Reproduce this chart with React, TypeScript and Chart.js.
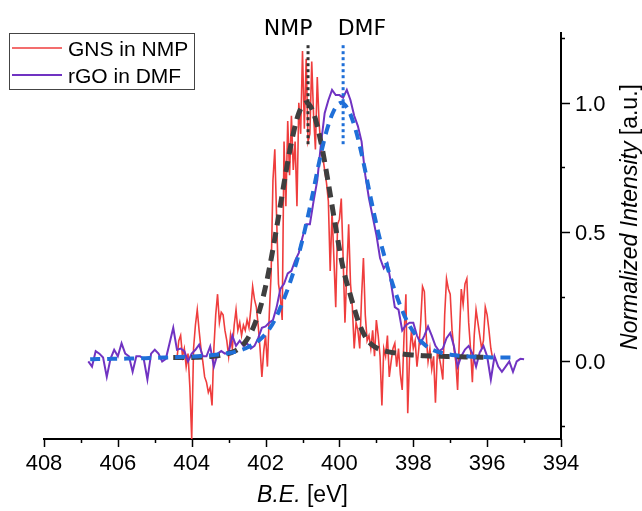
import React, { useEffect, useRef } from "react";
import { Chart, registerables } from "chart.js";
Chart.register(...registerables);

// ---- axes ----
const X_MIN = 394;
const X_MAX = 408;
const Y_MIN = -0.3;
const Y_MAX = 1.27;
const X_TICKS = [408, 406, 404, 402, 400, 398, 396, 394];
const X_TICK_LABELS = ["408", "406", "404", "402", "400", "398", "396", "394"];
const X_MINOR = [407, 405, 403, 401, 399, 397, 395];
const Y_TICKS = [0, 0.5, 1.0];
const Y_TICK_LABELS = ["0.0", "0.5", "1.0"];
const Y_MINOR = [-0.25, 0.25, 0.75, 1.25];

// ---- GNS in NMP (raw), B.E. grid from 404.40 eV downward, 0.05 eV step ----
const GNS_START = 404.4;
const GNS_STEP = 0.05;
const GNS_VALUES = [
  0.01, 0.08, 0.10, 0.02, 0.05, -0.02, 0.03, -0.10, -0.30, 0.05, 0.14, 0.20, 0.12, 0.05, 0.00, -0.06, -0.08, -0.12, -0.10, -0.17,
  0.05, 0.18, 0.26, 0.15, 0.19, 0.18, 0.12, 0.08, 0.02, 0.10, 0.05, 0.14, 0.20, 0.12, 0.15, 0.10, 0.14, 0.12, 0.16, 0.13,
  0.20, 0.29, 0.24, 0.21, 0.14, 0.05, -0.06, 0.04, 0.10, -0.02, 0.18, 0.34, 0.70, 0.82, 0.55, 0.30, 0.25, 0.16, 0.85, 0.60,
  0.93, 0.72, 0.95, 0.74, 0.85, 0.60, 1.00, 0.88, 1.20, 0.90, 1.17, 0.85, 0.88, 1.16, 0.95, 0.82, 1.10, 0.92, 0.83, 0.79,
  0.74, 0.69, 0.62, 0.35, 0.58, 0.40, 0.21, 0.53, 0.55, 0.63, 0.40, 0.15, 0.35, 0.53, 0.30, 0.21, 0.05, 0.15, 0.12, 0.05,
  0.25, 0.40, 0.18, 0.08, 0.10, 0.05, 0.12, 0.02, 0.16, 0.10, 0.02, -0.17, 0.05, 0.02, 0.10, -0.06, 0.00, 0.05, 0.07, -0.02,
  0.05, -0.05, -0.11, 0.10, 0.26, -0.20, 0.02, 0.12, 0.05, 0.08, -0.02, 0.05, 0.15, 0.29, 0.27, 0.10, 0.00, 0.05, -0.03, 0.02,
  -0.16, 0.03, 0.02, -0.02, -0.07, 0.18, 0.32, 0.28, 0.26, 0.12, 0.05, 0.00, -0.11, 0.10, 0.28, 0.22, 0.30, 0.32, 0.15, 0.05,
  -0.08, 0.10, 0.20, 0.15, 0.10, 0.05, 0.08, 0.21, 0.18, 0.12, 0.05, 0.01,
];

// ---- rGO in DMF (raw), grid from 406.8 eV downward, 0.1 eV step ----
const RGO_START = 406.8;
const RGO_STEP = 0.1;
const RGO_VALUES = [
  0.00, -0.02, 0.04, 0.03, 0.015, -0.06, 0.01, 0.045, 0.02, 0.07,
  0.03, 0.02, -0.04, 0.02, 0.02, 0.01, -0.07, 0.03, 0.045, 0.03,
  0.00, 0.01, 0.07, 0.13, 0.045, 0.05, 0.04, 0.00, 0.03, 0.045,
  0.065, 0.02, 0.02, 0.058, -0.02, 0.03, 0.04, 0.03, 0.035, 0.10,
  0.06, 0.08, 0.06, 0.07, 0.05, 0.06, 0.09, 0.13, 0.135, 0.15,
  0.16, 0.21, 0.28, 0.30, 0.34, 0.35, 0.39, 0.42, 0.48, 0.53,
  0.53, 0.62, 0.70, 0.84, 0.96, 1.01, 1.05, 1.03, 1.03, 1.02,
  1.05, 1.01, 0.95, 0.91, 0.85, 0.72, 0.63, 0.56, 0.49, 0.40,
  0.36, 0.38, 0.30, 0.21, 0.20, 0.12, 0.14, 0.15, 0.15, 0.10,
  0.07, 0.10, 0.135, 0.10, 0.06, 0.04, 0.05, 0.09, 0.11, 0.06,
  -0.02, 0.02, 0.046, 0.06, 0.03, -0.02, 0.035, 0.06, 0.02, -0.07,
  0.02, -0.02, -0.04, -0.02, 0.00, -0.04, 0.00, 0.01, 0.008,
];

// ---- NMP fit (gray dashed), grid from 404.5 eV downward, 0.2 eV step ----
const NMP_FIT_START = 404.5;
const NMP_FIT_STEP = 0.2;
const NMP_FIT_VALUES = [
  0.015, 0.015, 0.015, 0.016, 0.017, 0.019, 0.022, 0.028, 0.036, 0.052,
  0.085, 0.142, 0.230, 0.358, 0.517, 0.689, 0.847, 0.960, 1.000, 0.960,
  0.847, 0.689, 0.517, 0.360, 0.255, 0.160, 0.095, 0.062, 0.046, 0.038,
  0.033, 0.029, 0.026, 0.024, 0.022, 0.021, 0.020, 0.019, 0.018, 0.018,
  0.017, 0.017, 0.016,
];

// ---- DMF fit (blue dashed), grid from 406.75 eV downward, 0.2 eV step ----
const DMF_FIT_START = 406.75;
const DMF_FIT_STEP = 0.2;
const DMF_FIT_VALUES = [
  0.008, 0.009, 0.009, 0.010, 0.010, 0.011, 0.011, 0.012, 0.013, 0.014,
  0.015, 0.016, 0.017, 0.018, 0.019, 0.021, 0.023, 0.026, 0.029, 0.033,
  0.040, 0.050, 0.065, 0.085, 0.115, 0.160, 0.225, 0.300, 0.390, 0.500,
  0.630, 0.770, 0.890, 0.970, 1.000, 0.970, 0.890, 0.770, 0.630, 0.500,
  0.390, 0.295, 0.215, 0.150, 0.105, 0.072, 0.050, 0.038, 0.030, 0.025,
  0.022, 0.020, 0.018, 0.017, 0.016, 0.015, 0.015, 0.015,
];

// ---- peak markers ----
const NMP_PEAK_X = 400.85;
const DMF_PEAK_X = 399.9;
const MARKER_Y = [0.84, 1.23];
const NMP_LABEL_X = 401.39;
const DMF_LABEL_X = 399.39;

const SERIES_LABELS = ["GNS in NMP", "rGO in DMF"];
const RED = "#ef3d3d";
const PURPLE = "#7033c2";
const GRAY = "#3f3f3f";
const BLUE = "#1f6fd8";

function toPoints(start: number, step: number, values: number[]) {
  return values.map((v, i) => ({ x: Math.round((start - i * step) * 1000) / 1000, y: v }));
}

const TICK_FONT = '22px "Liberation Sans", Arial, sans-serif';

const decor = {
  id: "decor",
  afterDraw(chart: any) {
    const ctx = chart.ctx as CanvasRenderingContext2D;
    const xs = chart.scales.x;
    const ys = chart.scales.y;
    const a = chart.chartArea;
    ctx.save();
    ctx.strokeStyle = "#000";
    ctx.lineWidth = 1.5;
    const seg = (x1: number, y1: number, x2: number, y2: number) => {
      ctx.beginPath();
      ctx.moveTo(x1, y1);
      ctx.lineTo(x2, y2);
      ctx.stroke();
    };
    X_TICKS.forEach((v) => {
      const p = Math.round(xs.getPixelForValue(v)) + 0.5;
      seg(p, a.bottom, p, a.bottom + 8);
    });
    X_MINOR.forEach((v) => {
      const p = Math.round(xs.getPixelForValue(v)) + 0.5;
      seg(p, a.bottom, p, a.bottom + 4);
    });
    Y_TICKS.forEach((v) => {
      const p = Math.round(ys.getPixelForValue(v)) + 0.5;
      seg(a.right, p, a.right + 9, p);
    });
    Y_MINOR.forEach((v) => {
      const p = Math.round(ys.getPixelForValue(v)) + 0.5;
      seg(a.right, p, a.right + 4, p);
    });

    ctx.fillStyle = "#000";
    ctx.font = TICK_FONT;
    ctx.textAlign = "center";
    ctx.textBaseline = "alphabetic";
    X_TICKS.forEach((v, i) => {
      ctx.fillText(X_TICK_LABELS[i], xs.getPixelForValue(v), 470);
    });
    ctx.textAlign = "left";
    Y_TICKS.forEach((v, i) => {
      ctx.fillText(Y_TICK_LABELS[i], 575, ys.getPixelForValue(v) + 8);
    });

    // x title
    const itFont = 'italic 23px "Liberation Sans", Arial, sans-serif';
    const upFont = '23px "Liberation Sans", Arial, sans-serif';
    const drawMixed = (a1: string, a2: string, cx: number, cy: number) => {
      ctx.font = itFont;
      const w1 = ctx.measureText(a1).width;
      ctx.font = upFont;
      const w2 = ctx.measureText(a2).width;
      const x0 = cx - (w1 + w2) / 2;
      ctx.textAlign = "left";
      ctx.font = itFont;
      ctx.fillText(a1, x0, cy);
      ctx.font = upFont;
      ctx.fillText(a2, x0 + w1, cy);
    };
    drawMixed("B.E.", " [eV]", (a.left + a.right) / 2, 502);
    ctx.save();
    ctx.translate(637, 217);
    ctx.rotate(-Math.PI / 2);
    drawMixed("Normalized Intensity", " [a.u.]", 0, 0);
    ctx.restore();

    // peak labels
    ctx.font = '22px "DejaVu Sans", sans-serif';
    ctx.textAlign = "center";
    ctx.fillText("NMP", xs.getPixelForValue(NMP_LABEL_X), 35);
    ctx.fillText("DMF", xs.getPixelForValue(DMF_LABEL_X), 35);

    // legend
    ctx.fillStyle = "#fff";
    ctx.fillRect(9.5, 33.5, 185, 56);
    ctx.strokeStyle = "#444";
    ctx.lineWidth = 1;
    ctx.strokeRect(9.5, 33.5, 185, 56);
    const rows = [
      { label: SERIES_LABELS[0], color: RED, w: 1.6, y: 48 },
      { label: SERIES_LABELS[1], color: PURPLE, w: 2.2, y: 75 },
    ];
    ctx.font = '21px "Liberation Sans", Arial, sans-serif';
    ctx.textAlign = "left";
    rows.forEach((r) => {
      ctx.strokeStyle = r.color;
      ctx.lineWidth = r.w;
      seg(12, r.y, 62, r.y);
      ctx.fillStyle = "#000";
      ctx.fillText(r.label, 68, r.y + 7.5);
    });
    ctx.restore();
  },
};

export default function App() {
  const ref = useRef<HTMLCanvasElement | null>(null);
  useEffect(() => {
    if (!ref.current) return;
    const chart = new Chart(ref.current, {
      type: "line",
      data: {
        datasets: [
          {
            label: "DMF peak",
            data: MARKER_Y.map((y) => ({ x: DMF_PEAK_X, y })),
            borderColor: BLUE,
            borderWidth: 3,
            borderDash: [3, 3],
            pointRadius: 0,
            order: -2,
          },
          {
            label: "NMP peak",
            data: MARKER_Y.map((y) => ({ x: NMP_PEAK_X, y })),
            borderColor: "#333",
            borderWidth: 3,
            borderDash: [3, 3],
            pointRadius: 0,
            order: -1,
          },
          {
            label: "DMF fit",
            data: toPoints(DMF_FIT_START, DMF_FIT_STEP, DMF_FIT_VALUES),
            borderColor: BLUE,
            borderWidth: 4,
            borderDash: [10, 7],
            pointRadius: 0,
            cubicInterpolationMode: "monotone",
            order: 0,
          },
          {
            label: "NMP fit",
            data: toPoints(NMP_FIT_START, NMP_FIT_STEP, NMP_FIT_VALUES),
            borderColor: GRAY,
            borderWidth: 5,
            borderDash: [11, 7],
            pointRadius: 0,
            cubicInterpolationMode: "monotone",
            order: 1,
          },
          {
            label: SERIES_LABELS[1],
            data: toPoints(RGO_START, RGO_STEP, RGO_VALUES),
            borderColor: PURPLE,
            borderWidth: 2,
            pointRadius: 0,
            tension: 0,
            order: 2,
          },
          {
            label: SERIES_LABELS[0],
            data: toPoints(GNS_START, GNS_STEP, GNS_VALUES),
            borderColor: RED,
            borderWidth: 1.6,
            pointRadius: 0,
            tension: 0,
            order: 3,
          },
        ],
      },
      options: {
        responsive: false,
        animation: false,
        devicePixelRatio: 1,
        layout: { padding: { left: 44, top: 33, right: 0, bottom: 0 } },
        plugins: { legend: { display: false }, tooltip: { enabled: false } },
        scales: {
          x: {
            type: "linear",
            position: "bottom",
            min: X_MIN,
            max: X_MAX,
            reverse: true,
            grid: { display: false },
            ticks: { display: false },
            border: { display: true, color: "#000", width: 2 },
            afterFit: (s: any) => {
              s.height = 72;
            },
          },
          y: {
            type: "linear",
            position: "right",
            min: Y_MIN,
            max: Y_MAX,
            grid: { display: false },
            ticks: { display: false },
            border: { display: true, color: "#000", width: 2 },
            afterFit: (s: any) => {
              s.width = 81;
            },
          },
        },
      },
      plugins: [decor],
    } as any);
    return () => chart.destroy();
  }, []);
  return (
    <div style={{ position: "fixed", left: 0, top: 0, width: 642, height: 511, background: "#fff" }}>
      <canvas ref={ref} width={642} height={511} style={{ display: "block" }} />
    </div>
  );
}
